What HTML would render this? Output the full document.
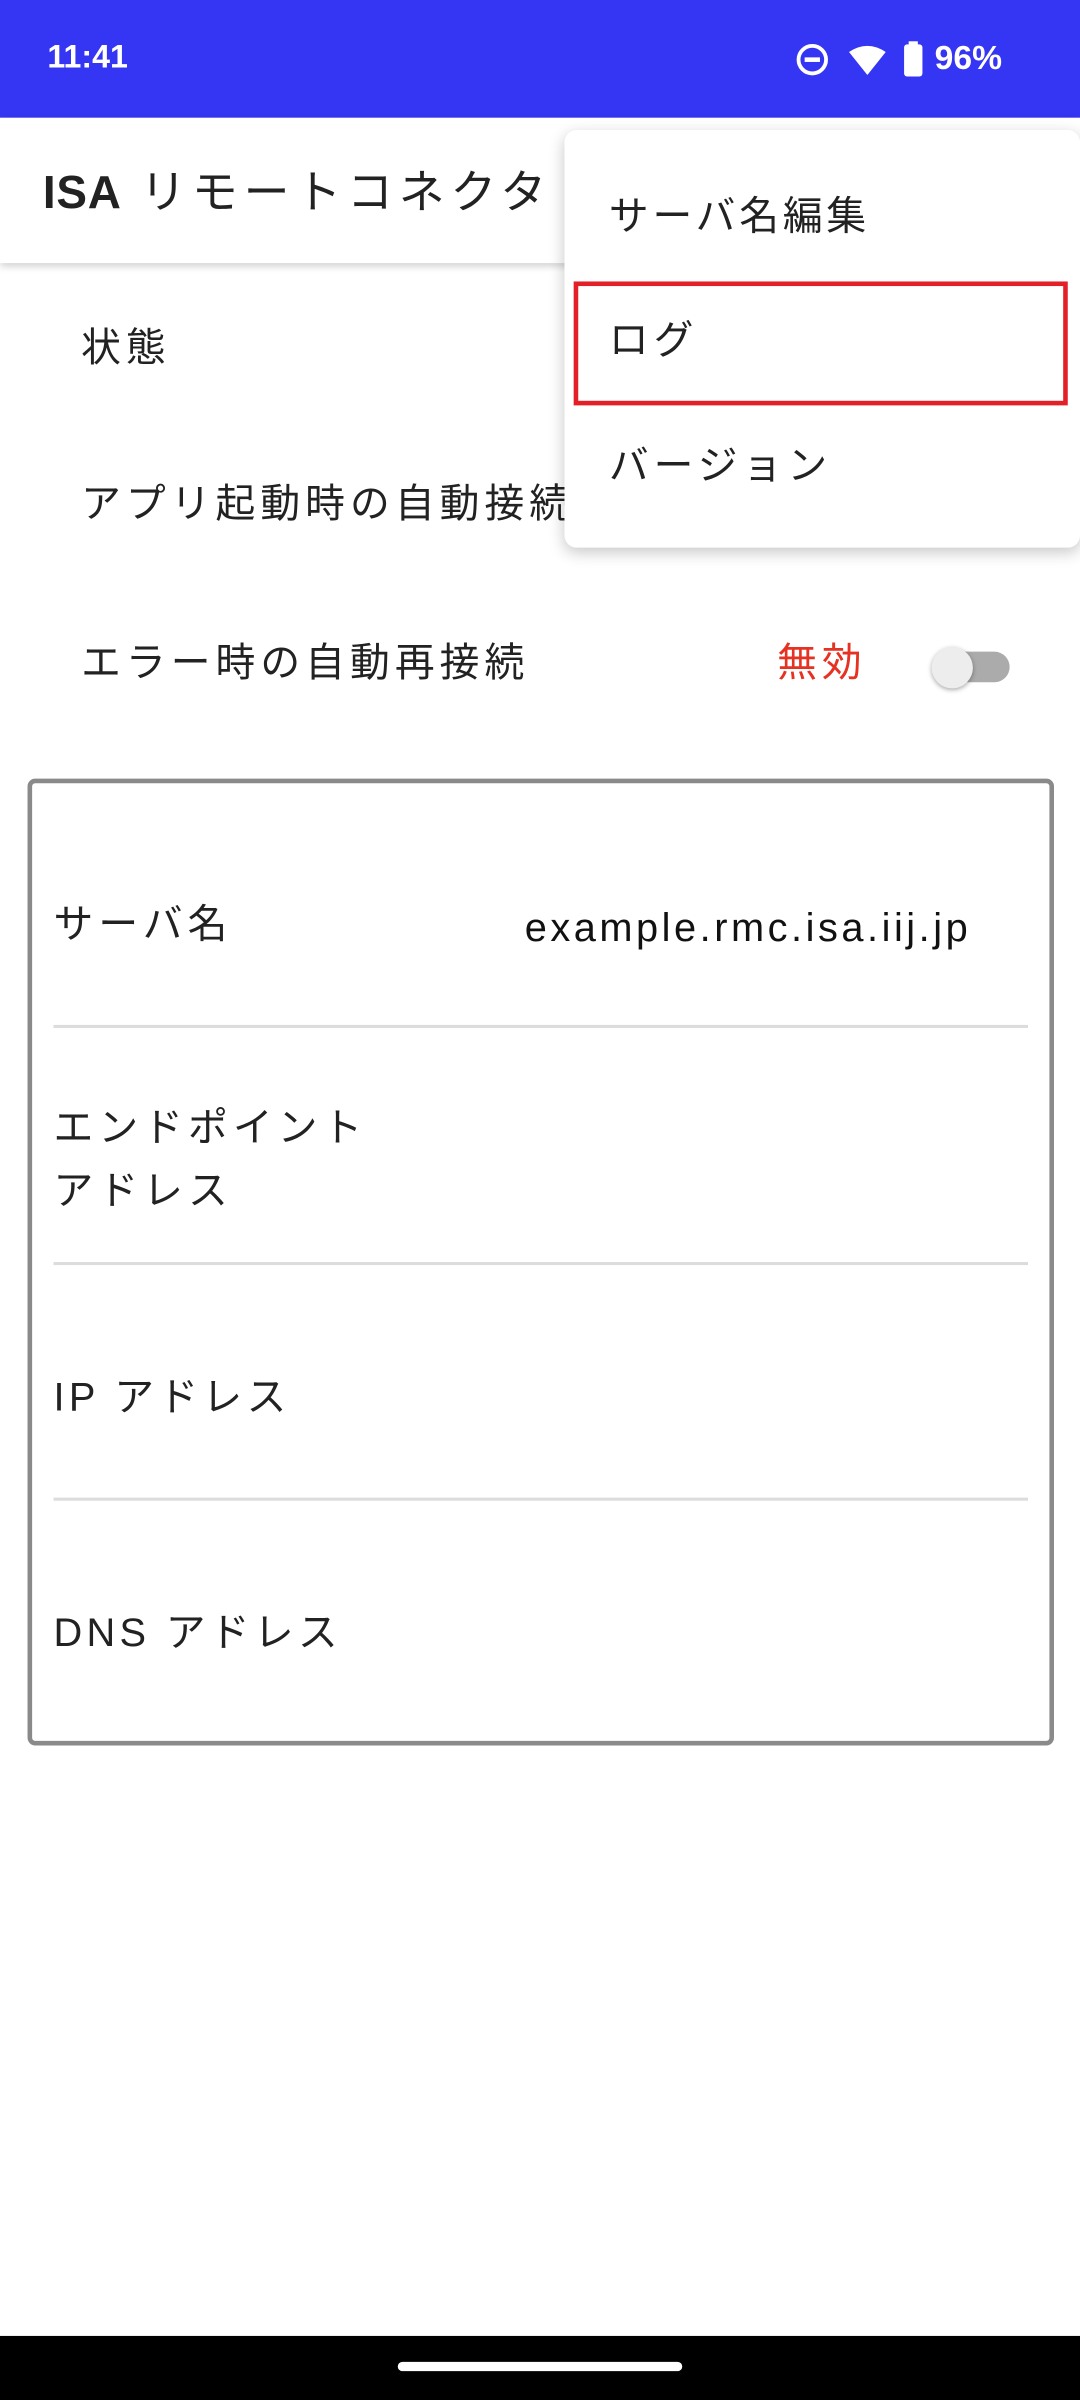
<!DOCTYPE html>
<html><head><meta charset="utf-8"><style>
html,body{margin:0;padding:0;width:1080px;height:2400px;overflow:hidden;background:#fff;}
#w{position:absolute;left:0;top:0;width:706px;height:1569px;transform:scale(1.52975);transform-origin:0 0;font-family:"Liberation Sans","Noto Sans CJK JP",sans-serif;color:#222;}
.a{position:absolute;white-space:nowrap;line-height:1;}
.t{font-size:26px;letter-spacing:3.3px;transform:translateY(-50%);}
.div{position:absolute;left:35px;width:637px;height:2px;background:#dcdcdc;}
</style></head><body><div id="w">
<div class="a" style="left:0;top:0;width:706px;height:77px;background:#3535f4;"></div>
<div class="a" style="left:31px;top:27px;color:#fff;font-size:21px;font-weight:bold;">11:41</div>
<svg class="a" style="left:519px;top:26px" width="140" height="26" viewBox="0 0 140 26">
<circle cx="12" cy="13" r="9" fill="none" stroke="#fff" stroke-width="2.5"/><rect x="7" y="11.5" width="10" height="3" fill="#fff"/>
<path d="M36 8 Q48 0 60 8 L48 23 Z" fill="#fff"/>
<rect x="72" y="3" width="12" height="21" rx="2" fill="#fff"/><rect x="75" y="1" width="6" height="3" fill="#fff"/>
</svg>
<div class="a" style="left:611px;top:27px;color:#fff;font-size:22px;font-weight:bold;">96%</div>
<div class="a" style="left:0;top:77px;width:706px;height:95px;background:#fff;box-shadow:0 2px 5px rgba(0,0,0,0.2);"></div>
<div class="a" style="left:28px;top:127px;font-size:30px;transform:translateY(-50%);letter-spacing:3.8px;color:#222;"><b style="font-weight:600;letter-spacing:0.5px">ISA</b> リモートコネクタ</div>
<div class="a t" style="left:53px;top:227px;">状態</div>
<div class="a t" style="left:53px;top:329px;">アプリ起動時の自動接続</div>
<div class="a t" style="left:53px;top:433px;">エラー時の自動再接続</div>
<div class="a t" style="left:508px;top:433px;color:#e53222;">無効</div>
<div class="a" style="left:612px;top:426px;width:48px;height:20px;border-radius:10px;background:#ababab;"></div>
<div class="a" style="left:609px;top:423px;width:27px;height:27px;border-radius:50%;background:#ededed;box-shadow:0 1px 3px rgba(0,0,0,0.35);"></div>
<div class="a" style="left:18px;top:509px;width:665px;height:626px;border:3px solid #8a8a8a;border-radius:5px;"></div>
<div class="a t" style="left:35px;top:604px;">サーバ名</div>
<div class="a" style="left:343px;top:606px;font-size:26px;transform:translateY(-50%);letter-spacing:2.3px;color:#111;">example.rmc.isa.iij.jp</div>
<div class="div" style="top:670px"></div>
<div class="a t" style="left:35px;top:737px;">エンドポイント</div>
<div class="a t" style="left:35px;top:778px;">アドレス</div>
<div class="div" style="top:825px"></div>
<div class="a t" style="left:35px;top:913px;letter-spacing:2.8px;">IP アドレス</div>
<div class="div" style="top:979px"></div>
<div class="a t" style="left:35px;top:1067px;letter-spacing:2.8px;">DNS アドレス</div>
<div class="a" style="left:369px;top:85px;width:337px;height:273px;background:#fff;border-radius:8px;box-shadow:0 3px 10px rgba(0,0,0,0.22);"></div>
<div class="a t" style="left:398px;top:141px;letter-spacing:2.5px;">サーバ名編集</div>
<div class="a" style="left:375px;top:184px;width:317px;height:75px;border:3px solid #e32028;"></div>
<div class="a t" style="left:398px;top:222px;">ログ</div>
<div class="a t" style="left:398px;top:304px;">バージョン</div>
<div class="a" style="left:0;top:1527px;width:706px;height:42px;background:#000;"></div>
<div class="a" style="left:260px;top:1544px;width:186px;height:6px;border-radius:3px;background:#fff;"></div>
</div></body></html>
